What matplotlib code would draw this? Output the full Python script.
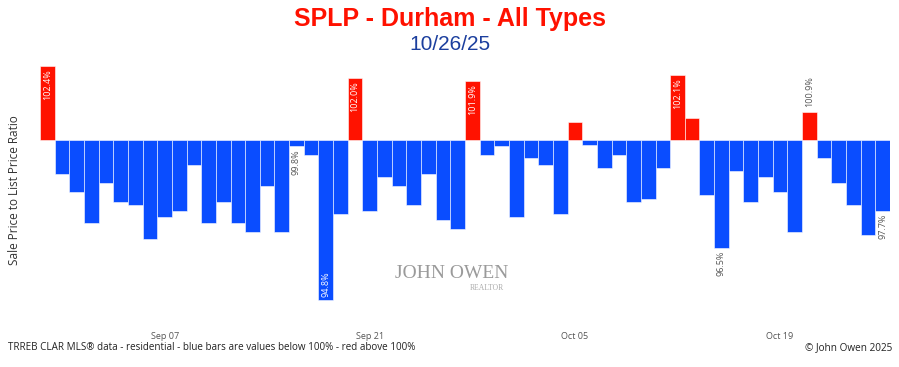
import numpy as np
import pandas as pd
import matplotlib
matplotlib.use("Agg")
import matplotlib.pyplot as plt

# daily sale-to-list ratio (%), Aug 30 .. Oct 26 2025
dates = pd.date_range("2025-08-30", "2025-10-26", freq="D")
ratio = [102.4, 98.9, 98.3, 97.3, 98.6, 98.0, 97.9, 96.8, 97.5, 97.7,
         99.2, 97.3, 98.0, 97.3, 97.0, 98.5, 97.0, 99.8, 99.5, 94.8,
         97.6, 102.0, 97.7, 98.8, 98.5, 97.9, 98.9, 97.4, 97.1, 101.9,
         99.5, 99.8, 97.5, 99.4, 99.2, 97.6, 100.6, 99.85, 99.1, 99.5,
         98.0, 98.1, 99.1, 102.1, 100.7, 98.2, 96.5, 99.0, 98.0, 98.8,
         98.3, 97.0, 100.9, 99.4, 98.6, 97.9, 96.9, 97.7]
labelled = [0, 17, 19, 21, 29, 43, 46, 52, 57]
tick_dates = pd.to_datetime(["2025-09-07", "2025-09-21", "2025-10-05", "2025-10-19"])
tick_labels = ["Sep 07", "Sep 21", "Oct 05", "Oct 19"]

BLUE = "#0a4dff"; RED = "#ff1200"

plt.rcParams["font.family"] = ["Open Sans", "DejaVu Sans"]
fig = plt.figure(figsize=(8.99, 3.67), dpi=100)
ax = fig.add_axes([40/899, 57/367, 850/899, 255/367])

vals = np.array(ratio)
cols = [RED if v > 100 else BLUE for v in vals]
ax.bar(dates, vals - 100, bottom=100, width=1.0, color=cols,
       edgecolor=(1, 1, 1, 0.55), linewidth=0.7)

ax.set_xlim(dates[0] - pd.Timedelta(hours=12), dates[-1] + pd.Timedelta(hours=12))
ax.set_ylim(94.48, 102.76)
ax.set_xticks(tick_dates)
ax.set_xticklabels(tick_labels)
ax.tick_params(axis="x", length=0, pad=16, labelsize=6.5, labelcolor="#555555")
ax.set_yticks([])
for s in ax.spines.values():
    s.set_visible(False)

vmin = vals.min()
for i in labelled:
    v = vals[i]; d = dates[i]; txt = f"{v:.1f}%"
    if v >= 101.5:
        ax.annotate(txt, (d, v), xytext=(0, -2), textcoords="offset points",
                    rotation=90, ha="center", va="top", fontsize=6.5, color="white")
    elif v == vmin:
        ax.annotate(txt, (d, v), xytext=(0, 2), textcoords="offset points",
                    rotation=90, ha="center", va="bottom", fontsize=6.5, color="white")
    elif v > 100:
        ax.annotate(txt, (d, v), xytext=(0, 4), textcoords="offset points",
                    rotation=90, ha="center", va="bottom", fontsize=6.5, color="#555555")
    else:
        ax.annotate(txt, (d, v), xytext=(0, -2), textcoords="offset points",
                    rotation=90, ha="center", va="top", fontsize=6.5, color="#555555")

fig.text(0.5, 1 - 19/367, "SPLP - Durham - All Types", ha="center", va="center",
         fontsize=18, fontweight="bold", family="Liberation Sans", color="#ff1100")
fig.text(0.5, 1 - 45/367, "10/26/25", ha="center", va="center",
         fontsize=15, family="Liberation Sans", color="#1c3f9e")
fig.text(15/899, 1 - 190/367, "Sale Price to List Price Ratio", rotation=90,
         ha="center", va="center", fontsize=8.5, color="#333333")

# watermark
fig.text(452/899, 1 - 273/367, "JOHN OWEN", ha="center", va="center",
         fontsize=14, family="Liberation Serif", color="#9a9a9a")
fig.text(487/899, 1 - 288/367, "REALTOR", ha="center", va="center",
         fontsize=5.5, family="Liberation Serif", color="#aaaaaa")

fig.text(8/899, 1 - 348/367, "TRREB CLAR MLS\u00ae data - residential - blue bars are values below 100% - red above 100%",
         ha="left", va="center", fontsize=7.1, color="#222222")
fig.text(892/899, 1 - 348/367, "\u00a9 John Owen 2025", ha="right", va="center",
         fontsize=7.2, color="#222222")

fig.savefig("out.png", dpi=100, facecolor="white")
